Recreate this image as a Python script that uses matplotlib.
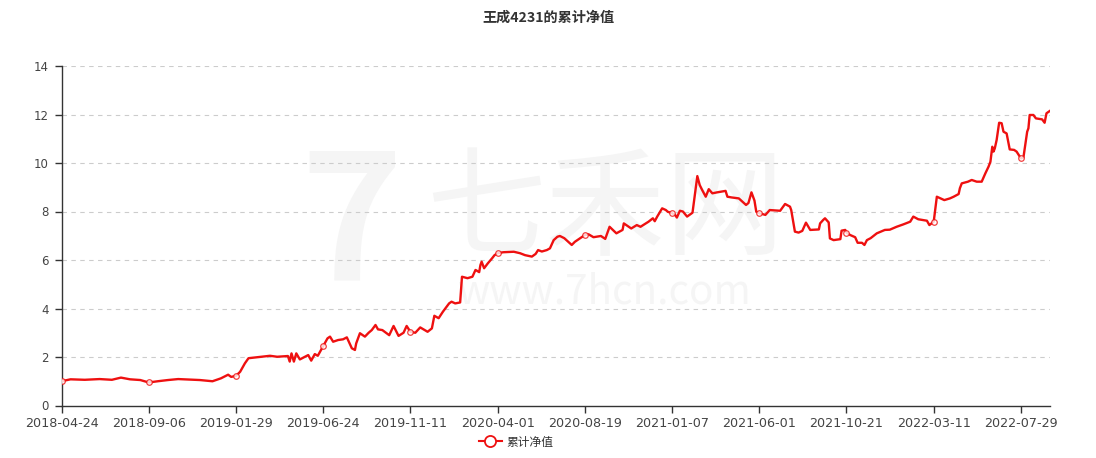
import numpy as np
import pandas as pd
import matplotlib
matplotlib.use("Agg")
import matplotlib.pyplot as plt
from matplotlib.lines import Line2D

plt.rcParams['font.family'] = ['Noto Sans CJK SC', 'DejaVu Sans']

title = "王成4231的累计净值"
series_name = "累计净值"

tick_labels = ["2018-04-24", "2018-09-06", "2019-01-29", "2019-06-24", "2019-11-11",
               "2020-04-01", "2020-08-19", "2021-01-07", "2021-06-01", "2021-10-21",
               "2022-03-11", "2022-07-29"]

dates = [
    "2018-04-24", "2018-05-08", "2018-05-30", "2018-06-22", "2018-07-11", "2018-07-25",
    "2018-08-08", "2018-08-24", "2018-09-06",
    "2018-09-21", "2018-10-08", "2018-10-25", "2018-11-14", "2018-11-30", "2018-12-21",
    "2019-01-04", "2019-01-16", "2019-01-21", "2019-01-29",
    "2019-02-05", "2019-02-13", "2019-02-19", "2019-03-05", "2019-03-27", "2019-04-08",
    "2019-04-26", "2019-04-29", "2019-05-02", "2019-05-06", "2019-05-10", "2019-05-16",
    "2019-05-30", "2019-06-04", "2019-06-10", "2019-06-15", "2019-06-24",
    "2019-07-01", "2019-07-05", "2019-07-10", "2019-07-18", "2019-07-26", "2019-08-01",
    "2019-08-09", "2019-08-14", "2019-08-16", "2019-08-22", "2019-08-30", "2019-09-05",
    "2019-09-10", "2019-09-16", "2019-09-20", "2019-09-27", "2019-10-08", "2019-10-15",
    "2019-10-23", "2019-10-31", "2019-11-05", "2019-11-11",
    "2019-11-19", "2019-11-27", "2019-12-09", "2019-12-16", "2019-12-20", "2019-12-27",
    "2020-01-03", "2020-01-13", "2020-01-17", "2020-01-23", "2020-01-31", "2020-02-03",
    "2020-02-12", "2020-02-20", "2020-02-25", "2020-03-02", "2020-03-04", "2020-03-06",
    "2020-03-10", "2020-03-16", "2020-03-23", "2020-03-27", "2020-04-01",
    "2020-04-10", "2020-04-27", "2020-05-07", "2020-05-15", "2020-05-26", "2020-06-01",
    "2020-06-05", "2020-06-11", "2020-06-19", "2020-06-24", "2020-06-30", "2020-07-06",
    "2020-07-10", "2020-07-17", "2020-07-29", "2020-08-03", "2020-08-11", "2020-08-19",
    "2020-08-25", "2020-09-02", "2020-09-14", "2020-09-21", "2020-09-28", "2020-10-09",
    "2020-10-19", "2020-10-21", "2020-11-02", "2020-11-11", "2020-11-17", "2020-11-30",
    "2020-12-07", "2020-12-10", "2020-12-14", "2020-12-22", "2020-12-28", "2020-12-31",
    "2021-01-07",
    "2021-01-12", "2021-01-15", "2021-01-20", "2021-01-25", "2021-02-01", "2021-02-05",
    "2021-02-10", "2021-02-18", "2021-02-22", "2021-02-26", "2021-03-04", "2021-03-09",
    "2021-03-15", "2021-03-23", "2021-04-06", "2021-04-09", "2021-04-16", "2021-04-28",
    "2021-05-10", "2021-05-14", "2021-05-19", "2021-05-24", "2021-05-27", "2021-06-01",
    "2021-06-11", "2021-06-18", "2021-07-05", "2021-07-13", "2021-07-21", "2021-07-23",
    "2021-07-29", "2021-08-04", "2021-08-10", "2021-08-16", "2021-08-20", "2021-08-23",
    "2021-09-06", "2021-09-08", "2021-09-13", "2021-09-16", "2021-09-22", "2021-09-24",
    "2021-09-30", "2021-10-11", "2021-10-13", "2021-10-19", "2021-10-21",
    "2021-10-27", "2021-11-04", "2021-11-08", "2021-11-15", "2021-11-19", "2021-11-23",
    "2021-11-29", "2021-12-09", "2021-12-22", "2021-12-30", "2022-01-10", "2022-01-21",
    "2022-02-01", "2022-02-06", "2022-02-14", "2022-02-28", "2022-03-04", "2022-03-11",
    "2022-03-16", "2022-03-28", "2022-04-06", "2022-04-12", "2022-04-20", "2022-04-22",
    "2022-04-25", "2022-05-05", "2022-05-11", "2022-05-19", "2022-05-27", "2022-06-02",
    "2022-06-07", "2022-06-10", "2022-06-13", "2022-06-15", "2022-06-17", "2022-06-20",
    "2022-06-24", "2022-06-28", "2022-07-01", "2022-07-06", "2022-07-11", "2022-07-18",
    "2022-07-22", "2022-07-29",
    "2022-08-02", "2022-08-08", "2022-08-10", "2022-08-12", "2022-08-18", "2022-08-22",
    "2022-09-01", "2022-09-05", "2022-09-08", "2022-09-13",
]

values = [
    1.00, 1.08, 1.06, 1.09, 1.06, 1.15, 1.08, 1.05, 0.95,
    1.00, 1.05, 1.09, 1.07, 1.05, 1.00, 1.12, 1.27, 1.18, 1.22,
    1.39, 1.74, 1.95, 1.99, 2.05, 2.01, 2.04, 1.81, 2.15, 1.81, 2.15, 1.90,
    2.08, 1.85, 2.12, 2.05, 2.45,
    2.77, 2.84, 2.63, 2.70, 2.73, 2.81, 2.36, 2.29, 2.56, 2.98, 2.84, 3.00,
    3.11, 3.32, 3.14, 3.11, 2.90, 3.28, 2.87, 3.00, 3.28, 3.04,
    3.00, 3.22, 3.04, 3.18, 3.70, 3.60, 3.87, 4.21, 4.28, 4.21, 4.25, 5.31,
    5.25, 5.31, 5.59, 5.50, 5.79, 5.93, 5.66, 5.86, 6.07, 6.20, 6.28,
    6.32, 6.34, 6.28, 6.20, 6.14, 6.25, 6.41, 6.35, 6.41, 6.48, 6.82, 6.96,
    6.99, 6.90, 6.62, 6.75, 6.89, 7.03,
    7.06, 6.94, 6.99, 6.87, 7.37, 7.10, 7.24, 7.51, 7.30, 7.44, 7.37, 7.58,
    7.72, 7.60, 7.79, 8.13, 8.06, 7.99, 7.93,
    7.86, 7.75, 8.03, 8.00, 7.79, 7.86, 7.95, 9.46, 9.09, 8.89, 8.61, 8.92,
    8.75, 8.79, 8.85, 8.61, 8.58, 8.54, 8.27, 8.35, 8.79, 8.45, 7.99, 7.93,
    7.86, 8.06, 8.03, 8.31, 8.20, 8.06, 7.17, 7.13, 7.20, 7.54, 7.37, 7.24,
    7.26, 7.51, 7.65, 7.72, 7.55, 6.89, 6.82, 6.86, 7.21, 7.24, 7.13,
    7.03, 6.94, 6.71, 6.71, 6.62, 6.82, 6.90, 7.10, 7.24, 7.25, 7.37, 7.47,
    7.58, 7.79, 7.68, 7.62, 7.44, 7.58,
    8.61, 8.47, 8.54, 8.61, 8.72, 8.96, 9.16, 9.23, 9.30, 9.23, 9.23, 9.58,
    9.85, 10.05, 10.67, 10.47, 10.60, 10.95, 11.66, 11.64, 11.29, 11.22, 10.56, 10.54,
    10.47, 10.19,
    10.23, 11.29, 11.43, 11.98, 11.98, 11.84, 11.80, 11.66, 12.05, 12.14,
]

y_ticks = [0, 2, 4, 6, 8, 10, 12, 14]

# ---- category-like scale: each labelled date sits at an equal step ----
tick_ord = pd.to_datetime(tick_labels).map(pd.Timestamp.toordinal).to_numpy(dtype=float)
tick_idx = np.arange(len(tick_labels), dtype=float)
step_days = tick_ord[-1] - tick_ord[-2]
scale_ord = np.append(tick_ord, tick_ord[-1] + step_days)
scale_idx = np.append(tick_idx, tick_idx[-1] + 1)

def to_pos(ds):
    o = pd.to_datetime(ds).map(pd.Timestamp.toordinal).to_numpy(dtype=float)
    return np.interp(o, scale_ord, scale_idx)

xpos = to_pos(dates)
vals = np.array(values)

W, H = 1096, 458
fig = plt.figure(figsize=(W / 100, H / 100), dpi=100)
ax = fig.add_axes([61.5 / W, (H - 405.5) / H, (1049.6 - 61.5) / W, (405.5 - 66) / H])
ax.set_zorder(2)
ax.patch.set_alpha(0)

# faint watermark (behind the axes)
wm = '#f5f5f5'
fig.text(605 / W, 1 - 212 / H, "七禾网", fontsize=86, color=wm,
         ha='center', va='center', zorder=0)
fig.text(605 / W, 1 - 292 / H, "www.7hcn.com", fontsize=29, color=wm,
         ha='center', va='center', zorder=0)
fig.text(352 / W, 1 - 228 / H, "7", fontsize=125, color=wm, ha='center',
         va='center', zorder=0, fontweight='bold', style='italic')

red = '#ee1010'
ax.plot(xpos, vals, color=red, lw=1.7, zorder=3, solid_joinstyle='round')

mask = np.isin(np.array(dates), np.array(tick_labels))
ax.plot(xpos[mask], vals[mask], ls='none', marker='o', ms=4, mfc='white',
        mec=red, mew=0.9, zorder=4, alpha=0.8)

ax.set_xlim(0, xpos[-1])
ax.set_ylim(0, 14)
ax.set_yticks(y_ticks)
ax.set_yticklabels([str(v) for v in y_ticks], family=['DejaVu Sans'])
ax.set_xticks(tick_idx)
ax.set_xticklabels(tick_labels, family=['DejaVu Sans'])

for s in ['top', 'right']:
    ax.spines[s].set_visible(False)
for s in ['left', 'bottom']:
    ax.spines[s].set_color('#333333')
    ax.spines[s].set_linewidth(1.0)

ax.tick_params(axis='both', colors='#333333', length=5, width=1, labelcolor='#444444')
ax.tick_params(axis='x', labelsize=9.2, pad=3)
ax.tick_params(axis='y', labelsize=8.5, pad=4)

for v in y_ticks[1:]:
    ax.axhline(v, color='#cccccc', lw=0.8, ls=(0, (4, 4)), zorder=1)

fig.text(548 / W, 1 - 18 / H, title, ha='center', va='center', fontsize=10.2,
         fontweight='bold', color='#333333')

handle = Line2D([], [], color=red, lw=1.5, marker='o', ms=8, mfc='white',
                mec=red, mew=1.3)
fig.legend([handle], [series_name], loc='center', bbox_to_anchor=(0.471, 1 - 442 / H),
           frameon=False, fontsize=8.5, handlelength=2.0, handletextpad=0.4,
           labelcolor='#333333')

fig.savefig("out.png", dpi=100)
